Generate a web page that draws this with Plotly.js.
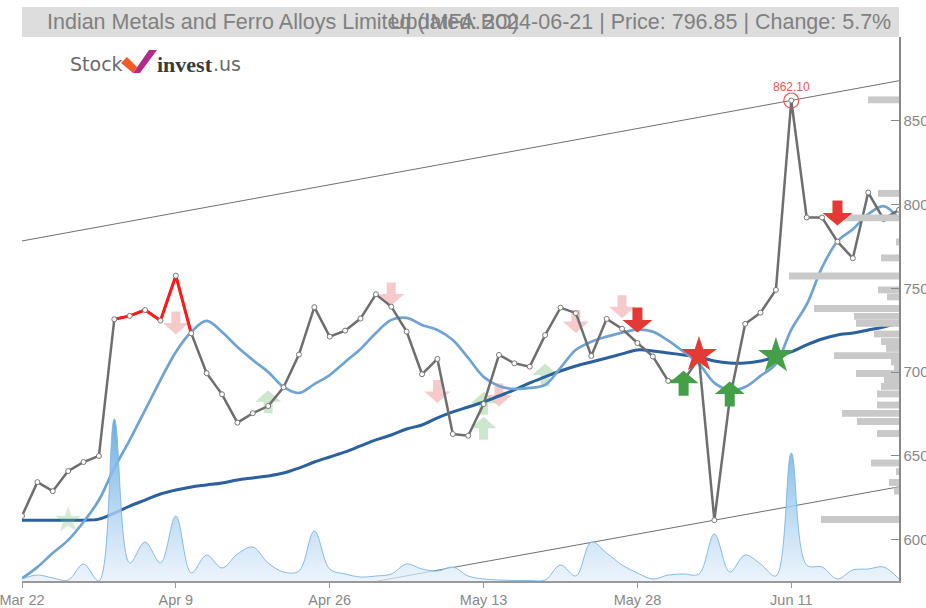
<!DOCTYPE html>
<html><head><meta charset="utf-8">
<script src="https://cdn.plot.ly/plotly-3.0.1.min.js"></script>
<style>html,body{margin:0;padding:0;background:#fff}#chart{width:926px;height:608px}</style>
</head><body><div id="chart"></div>
<script>
const dates = ['2024-03-22','2024-03-26','2024-03-27','2024-03-28','2024-04-01','2024-04-02','2024-04-03','2024-04-04','2024-04-05','2024-04-08',
'2024-04-09','2024-04-12','2024-04-15','2024-04-16','2024-04-18','2024-04-19','2024-04-22','2024-04-23','2024-04-24','2024-04-25',
'2024-04-26','2024-04-29','2024-04-30','2024-05-02','2024-05-03','2024-05-06','2024-05-07','2024-05-08','2024-05-09','2024-05-10',
'2024-05-13','2024-05-14','2024-05-15','2024-05-16','2024-05-17','2024-05-21','2024-05-22','2024-05-23','2024-05-24','2024-05-27',
'2024-05-28','2024-05-29','2024-05-30','2024-05-31','2024-06-03','2024-06-04','2024-06-05','2024-06-06','2024-06-07','2024-06-10',
'2024-06-11','2024-06-12','2024-06-13','2024-06-14','2024-06-18','2024-06-19','2024-06-20','2024-06-21'];
const tickDates = ['2024-03-22','2024-04-09','2024-04-26','2024-05-13','2024-05-28','2024-06-11'];
const tickLabels = ['Mar 22','Apr 9','Apr 26','May 13','May 28','Jun 11'];

const price = [614.2,634.4,629.0,641.0,646.4,650.0,731.6,733.6,737.1,730.8,
757.6,723.2,699.4,686.8,669.9,675.5,679.8,691.0,710.5,738.8,
721.2,724.8,732.0,746.5,739.1,724.2,698.8,707.9,663.1,662.1,
681.0,710.3,705.3,703.3,722.1,738.5,735.2,709.7,731.8,725.9,
717.4,709.4,694.8,695.0,708.4,611.7,684.0,728.8,735.5,749.1,
862.1,792.3,792.3,777.9,768.0,807.2,791.3,796.85];
const redStart = 6, redEnd = 11;

const maShort = [577.0,583.7,592.1,599.8,610.6,623.7,642.8,659.5,677.4,695.3,
712.1,724.0,730.6,724.0,715.0,707.3,700.1,691.2,687.6,692.9,
698.3,706.1,713.8,723.4,731.2,732.4,728.2,725.2,719.2,708.5,
697.2,691.8,690.0,690.6,692.4,702.6,713.4,718.2,721.2,723.6,
725.4,724.2,718.8,712.2,705.0,693.6,689.4,691.2,697.8,705.0,
725.4,740.4,762.5,778.1,785.3,794.3,799.1,791.3];

const maLong = [611.7,611.7,611.7,611.7,611.7,612.3,615.9,620.1,623.7,627.3,
629.7,631.5,632.7,633.9,635.7,636.9,638.1,639.8,642.8,646.4,
649.4,652.4,656.0,659.6,662.5,666.1,668.5,672.7,676.3,679.2,
682.2,685.8,689.4,693.6,697.2,700.7,703.7,706.1,708.5,710.9,
713.3,712.7,711.5,710.3,709.1,706.7,705.5,705.5,706.7,709.1,
712.1,716.3,719.8,722.2,723.4,725.2,727.0,729.4];

const volume = [2,6,3,1,17,0,162,18,39,18,
65,8,26,13,27,34,18,9,10,50,
12,7,4,5,7,17,12,10,14,5,
2,1,0.5,0.5,1,16,5,39,28,16,
8,2,6,7,7,47,9,26,17,5,
128,16,14,2,11,12,14,2];

const profilePrice = [862.5,806.7,792.1,777.7,768.2,757.4,749.1,744.9,738.0,733.3,729.1,722.8,718.3,714.2,709.9,706.1,702.8,699.2,695.4,691.5,687.0,680.4,675.4,670.6,663.4,645.8,640.7,634.2,629.1,612.1];
const profileSize  = [31,21,55,3,18,110,21,12,85,45,43,25,18,13,65,8,5,43,15,18,22,22,57,42,22,28,3,10,5,78];

const trendUpperX = ['2024-03-22','2024-06-21'], trendUpperY = [778.3, 873.9];
const trendLowerX = ['2024-04-26','2024-06-21'], trendLowerY = [570.2, 631.6];

const sellWeakIdx = [10,24,27,31,36,39], sellWeakPrice = [729.4,746.7,688.4,686.4,730.2,739.1];
const sellStrongIdx = [40,53], sellStrongPrice = [731.2,795.0];
const buyWeakIdx = [16,30,30,34], buyWeakPrice = [682.4,681.4,666.5,698.3];
const buyStrongIdx = [43,46], buyStrongPrice = [693.4,687.0];
const starSellIdx = [44], starSellPrice = [710.3];
const starBuyIdx = [49], starBuyPrice = [709.7];
const starBuyWeakIdx = [3], starBuyWeakPrice = [611.7];
const peakIdx = 50, peakPrice = 862.10;

const titleLeft = 'Indian Metals and Ferro Alloys Limited (IMFA.BO)';
const titleRight = 'Updated: 2024-06-21 | Price: 796.85 | Change: 5.7%';

const sans = '"Liberation Sans", Arial, sans-serif';

const traces = [];
traces.push({x: dates, y: volume, type:'scatter', mode:'lines', xaxis:'x', yaxis:'y2',
  line:{color:'rgba(120,180,230,0.9)', width:1, shape:'spline', smoothing:1},
  fill:'tozeroy', fillgradient:{type:'vertical', colorscale:[[0,'rgba(228,239,250,0.7)'],[1,'rgba(95,168,225,0.95)']]},
  hoverinfo:'skip'});
traces.push({x: profileSize, y: profilePrice, type:'bar', orientation:'h', xaxis:'x2', yaxis:'y',
  width:4.1, marker:{color:'#c9c9c9'}, hoverinfo:'skip'});
traces.push({x: trendUpperX, y: trendUpperY, type:'scatter', mode:'lines', line:{color:'#707070', width:1}});
traces.push({x: trendLowerX, y: trendLowerY, type:'scatter', mode:'lines', line:{color:'#707070', width:1}});
traces.push({x: dates, y: maLong, type:'scatter', mode:'lines', line:{color:'#2a619e', width:3, shape:'spline'}});
traces.push({x: dates, y: maShort, type:'scatter', mode:'lines', line:{color:'#6fa3d4', width:2.7, shape:'spline'}});
traces.push({x: dates, y: price, type:'scatter', mode:'lines', line:{color:'#6e6e6e', width:2.5}});
traces.push({x: dates.slice(redStart, redEnd+1), y: price.slice(redStart, redEnd+1), type:'scatter', mode:'lines', line:{color:'#ff1a1a', width:3}});
traces.push({x: dates, y: price, type:'scatter', mode:'markers', marker:{symbol:'circle', size:5, color:'#ffffff', line:{color:'#777', width:1}}});
traces.push({x: starBuyWeakIdx.map(i=>dates[i]), y: starBuyWeakPrice, type:'scatter', mode:'markers', marker:{symbol:'star', size:20, color:'rgba(120,190,120,0.3)'}});
traces.push({x: starSellIdx.map(i=>dates[i]), y: starSellPrice, type:'scatter', mode:'markers', marker:{symbol:'star', size:27, color:'#e53935'}});
traces.push({x: starBuyIdx.map(i=>dates[i]), y: starBuyPrice, type:'scatter', mode:'markers', marker:{symbol:'star', size:27, color:'#43a047'}});
traces.push({x: [dates[peakIdx]], y: [peakPrice], type:'scatter', mode:'markers', marker:{symbol:'circle-open', size:15, color:'#ee5555', line:{width:1.2}}});

function arrowPath(up, w, sw, h) {
  const hw=w/2, ss=sw/2, hh=h/2, s = up?1:-1;
  return `M0,${s*hh} L${hw},0 L${ss},0 L${ss},${-s*hh} L${-ss},${-s*hh} L${-ss},0 L${-hw},0 Z`;
}
const shapes = [];
shapes.push({type:'rect', xref:'paper', yref:'paper', x0:0, x1:1, y0:1, y1:1.0551, fillcolor:'#dddddd', line:{width:0}, layer:'below'});
function addArrows(idx, pr, up, color, w, sw, h, layer) {
  idx.forEach((i,k)=>shapes.push({type:'path', xref:'x', yref:'y', xsizemode:'pixel', ysizemode:'pixel',
    xanchor: dates[i], yanchor: pr[k], path: arrowPath(up,w,sw,h), fillcolor: color, line:{width:0}, layer: layer}));
}
addArrows(sellWeakIdx, sellWeakPrice, false, 'rgba(238,150,150,0.5)', 26, 9, 23, 'below');
addArrows(buyWeakIdx, buyWeakPrice, true, 'rgba(130,195,130,0.4)', 26, 9, 23, 'below');
addArrows(sellStrongIdx, sellStrongPrice, false, '#e53935', 30, 10, 25, 'above');
addArrows(buyStrongIdx, buyStrongPrice, true, '#43a047', 30, 10, 25, 'above');
const logo = {xref:'paper', yref:'paper', xsizemode:'pixel', ysizemode:'pixel', xanchor:0, yanchor:1, type:'path', line:{width:0}};
shapes.push(Object.assign({}, logo, {path:'M99,-26 L105,-20 L115,-30 L111,-36 Z', fillcolor:'#f15a24'}));
shapes.push(Object.assign({}, logo, {path:'M111,-36 L127,-13 L135,-13 L118,-36 Z', fillcolor:'#b52a86'}));

const annotations = [
  {xref:'paper', yref:'paper', x:0.0262, y:1.0276, xanchor:'left', yanchor:'middle', showarrow:false, text:titleLeft, font:{family:sans, size:21.5, color:'#808080'}},
  {xref:'paper', yref:'paper', x:0.9932, y:1.0276, xanchor:'right', yanchor:'middle', showarrow:false, text:titleRight, font:{family:sans, size:21.5, color:'#808080'}},
  {xref:'paper', yref:'paper', x:(68-22)/877, y:(581-64)/544, xanchor:'left', yanchor:'middle', showarrow:false, text:'Stock', font:{family:'DejaVu Sans', size:19, color:'#6a6a6a'}},
  {xref:'paper', yref:'paper', x:(155-22)/877, y:(581-64)/544, xanchor:'left', yanchor:'middle', showarrow:false, text:'<b>invest</b>', font:{family:'Liberation Serif', size:22, color:'#3a3a3a'}},
  {xref:'paper', yref:'paper', x:(211-22)/877, y:(581-64)/544, xanchor:'left', yanchor:'middle', showarrow:false, text:'.us', font:{family:'DejaVu Sans', size:19, color:'#6a6a6a'}},
  {xref:'x', yref:'y', x:dates[peakIdx], y:peakPrice, yshift:14, showarrow:false, text:peakPrice.toFixed(2), font:{family:sans, size:12, color:'#ee5555'}}
];

const layout = {
  width:926, height:608, margin:{l:22, r:27, t:37, b:27},
  paper_bgcolor:'#ffffff', plot_bgcolor:'#ffffff', showlegend:false,
  xaxis:{type:'category', range:[0,57], tickvals:tickDates, ticktext:tickLabels, showgrid:false, zeroline:false,
    showline:true, linecolor:'#999', linewidth:2, ticks:'outside', ticklen:5, tickcolor:'#999',
    tickfont:{family:sans, size:14.5, color:'#888'}},
  xaxis2:{overlaying:'x', range:[877,0], visible:false},
  yaxis:{side:'right', range:[575.4,900], tickvals:[600,650,700,750,800,850], showgrid:false, zeroline:false,
    showline:true, linecolor:'#888', linewidth:1.5, ticks:'inside', ticklen:8, tickcolor:'#888',
    tickfont:{family:sans, size:15, color:'#888'}},
  yaxis2:{overlaying:'y', range:[0,544], visible:false},
  shapes: shapes, annotations: annotations
};
Plotly.newPlot('chart', traces, layout, {displayModeBar:false, staticPlot:true});
</script></body></html>
